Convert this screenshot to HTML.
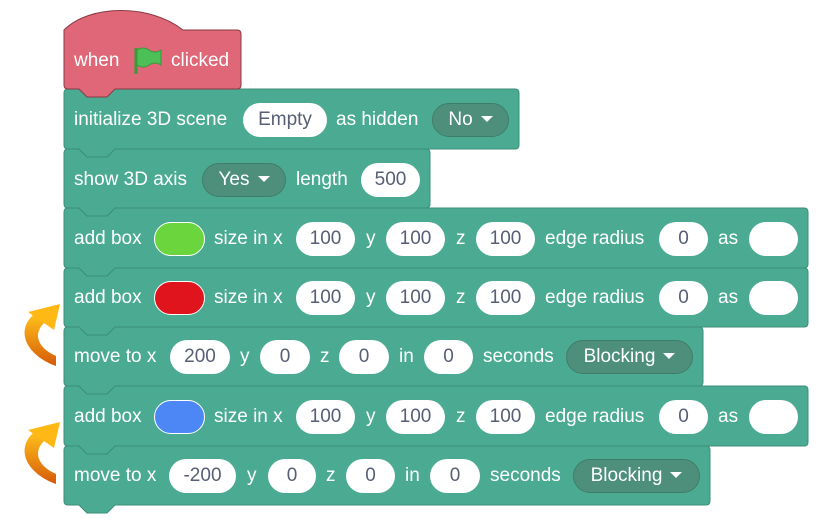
<!DOCTYPE html>
<html><head><meta charset="utf-8"><style>
html,body{margin:0;padding:0;background:#fff;}
#c{position:relative;width:826px;height:527px;overflow:hidden;font-family:"Liberation Sans",sans-serif;}
svg{position:absolute;left:0;top:0;}
.t{position:absolute;color:#fff;font-size:19px;line-height:20px;white-space:nowrap;}
.p{position:absolute;height:34px;border-radius:17px;background:#fff;color:#575e75;font-size:19px;line-height:34px;text-align:center;}
.d{position:absolute;height:34px;border-radius:17px;background:#4e8f7b;border:1px solid #3f7d6a;box-sizing:border-box;color:#fff;font-size:19px;line-height:32px;text-align:center;}
.d:after{content:"";display:inline-block;margin-left:8px;border-left:6px solid transparent;border-right:6px solid transparent;border-top:6px solid #fff;vertical-align:3px;}
.col{position:absolute;height:34px;border-radius:17px;border:1px solid #fff;box-sizing:border-box;}
</style></head><body><div id="c">
<svg width="826" height="527" id="s">
<defs><linearGradient id="g" x1="0" y1="0" x2="0" y2="1"><stop offset="0" stop-color="#ffc21a"/><stop offset="1" stop-color="#d65a0a"/></linearGradient></defs>
</svg>
</div>
<script>
var s=document.getElementById('s');
function blk(x0,y0,x1,y1,fill,stroke,top){
 var n=15;
 var d='M'+x0+','+(y0+4)+' q0,-4 4,-4 H'+(x0+n)+' l8,8 h20 l8,-8 H'+(x1-4)+' q4,0 4,4';
 d+=' V'+(y1-4)+' q0,4 -4,4 H'+(x0+n+36)+' l-8,8 h-20 l-8,-8 H'+(x0+4)+' q-4,0 -4,-4 Z';
 var p=document.createElementNS('http://www.w3.org/2000/svg','path');
 p.setAttribute('d',d);p.setAttribute('fill',fill);p.setAttribute('stroke',stroke);p.setAttribute('stroke-width','1');
 s.appendChild(p);
}
var G='#4bab92',GS='#3b8f78';
var rows=[[89,149,519],[149,208,430],[208,268,808],[268,327,808],[327,386,703],[386,446,808],[446,505,710]];
for(var i=rows.length-1;i>=0;i--){blk(64,rows[i][0],rows[i][2],rows[i][1],G,GS,true);}
var h=document.createElementNS('http://www.w3.org/2000/svg','path');
h.setAttribute('d','M64,30 C90,4 150,4 183,30 H237 q4,0 4,4 V85 q0,4 -4,4 H115 l-8,8 h-20 l-8,-8 H68 q-4,0 -4,-4 Z');
h.setAttribute('fill','#df6777');h.setAttribute('stroke','#8a3a44');h.setAttribute('stroke-width','1');
s.appendChild(h);
function arr(y){
 var p=document.createElementNS('http://www.w3.org/2000/svg','path');
 p.setAttribute('d','M56,'+(y+64)+' C28,'+(y+54)+' 14,'+(y+30)+' 34,'+(y+12)+' L45,'+(y+20)+' C32,'+(y+32)+' 38,'+(y+46)+' 56,'+(y+54)+' Z');
 p.setAttribute('fill','url(#g)');s.appendChild(p);
 var t=document.createElementNS('http://www.w3.org/2000/svg','path');
 t.setAttribute('d','M60,'+(y+2)+' L54,'+(y+28)+' L28,'+(y+10)+' Z');
 t.setAttribute('fill','#ffb814');s.appendChild(t);
}
arr(302);arr(420);
</script>
<script>
var c=document.getElementById('c');
function T(x,y,txt){var e=document.createElement('div');e.className='t';e.style.left=x+'px';e.style.top=(y-10)+'px';e.textContent=txt;c.appendChild(e);}
function P(x,w,y,txt){var e=document.createElement('div');e.className='p';e.style.left=x+'px';e.style.width=w+'px';e.style.top=(y-17)+'px';e.textContent=txt;c.appendChild(e);}
function D(x,w,y,txt){var e=document.createElement('div');e.className='d';e.style.left=x+'px';e.style.width=w+'px';e.style.top=(y-17)+'px';e.textContent=txt;c.appendChild(e);}
function C(x,w,y,col){var e=document.createElement('div');e.className='col';e.style.left=x+'px';e.style.width=w+'px';e.style.top=(y-17)+'px';e.style.background=col;c.appendChild(e);}
T(74,61,'when');T(171,61,'clicked');
c.insertAdjacentHTML('beforeend','<svg style="left:132px;top:45px" width="32" height="32"><path d="M4,3 V29" stroke="#3a9a3a" stroke-width="3"/><path d="M5,5 q6,-4 12,0 t12,0 v15 q-6,-4 -12,0 t-12,0 Z" fill="#4cbf56" stroke="#3a9a3a" stroke-width="1"/></svg>');
T(74,120,'initialize 3D scene');P(243,84,120,'Empty');T(336,120,'as hidden');D(432,77,120,'No');
T(74,180,'show 3D axis');D(202,84,180,'Yes');T(296,180,'length');P(361,59,180,'500');
function box(y,col){T(74,y,'add box');C(154,51,y,col);T(214,y,'size in x');P(296,59,y,'100');T(366,y,'y');P(386,59,y,'100');T(456,y,'z');P(476,59,y,'100');T(545,y,'edge radius');P(659,49,y,'0');T(718,y,'as');P(749,49,y,'');}
box(239,'#6ad53c');box(298,'#e0141c');box(417,'#4d86f5');
T(74,357,'move to x');P(170,60,357,'200');T(240,357,'y');P(260,50,357,'0');T(320,357,'z');P(339,50,357,'0');T(399,357,'in');P(424,49,357,'0');T(483,357,'seconds');D(566,127,357,'Blocking');
T(74,476,'move to x');P(169,67,476,'-200');T(247,476,'y');P(268,48,476,'0');T(326,476,'z');P(346,49,476,'0');T(405,476,'in');P(430,50,476,'0');T(490,476,'seconds');D(573,127,476,'Blocking');
</script>
</body></html>
